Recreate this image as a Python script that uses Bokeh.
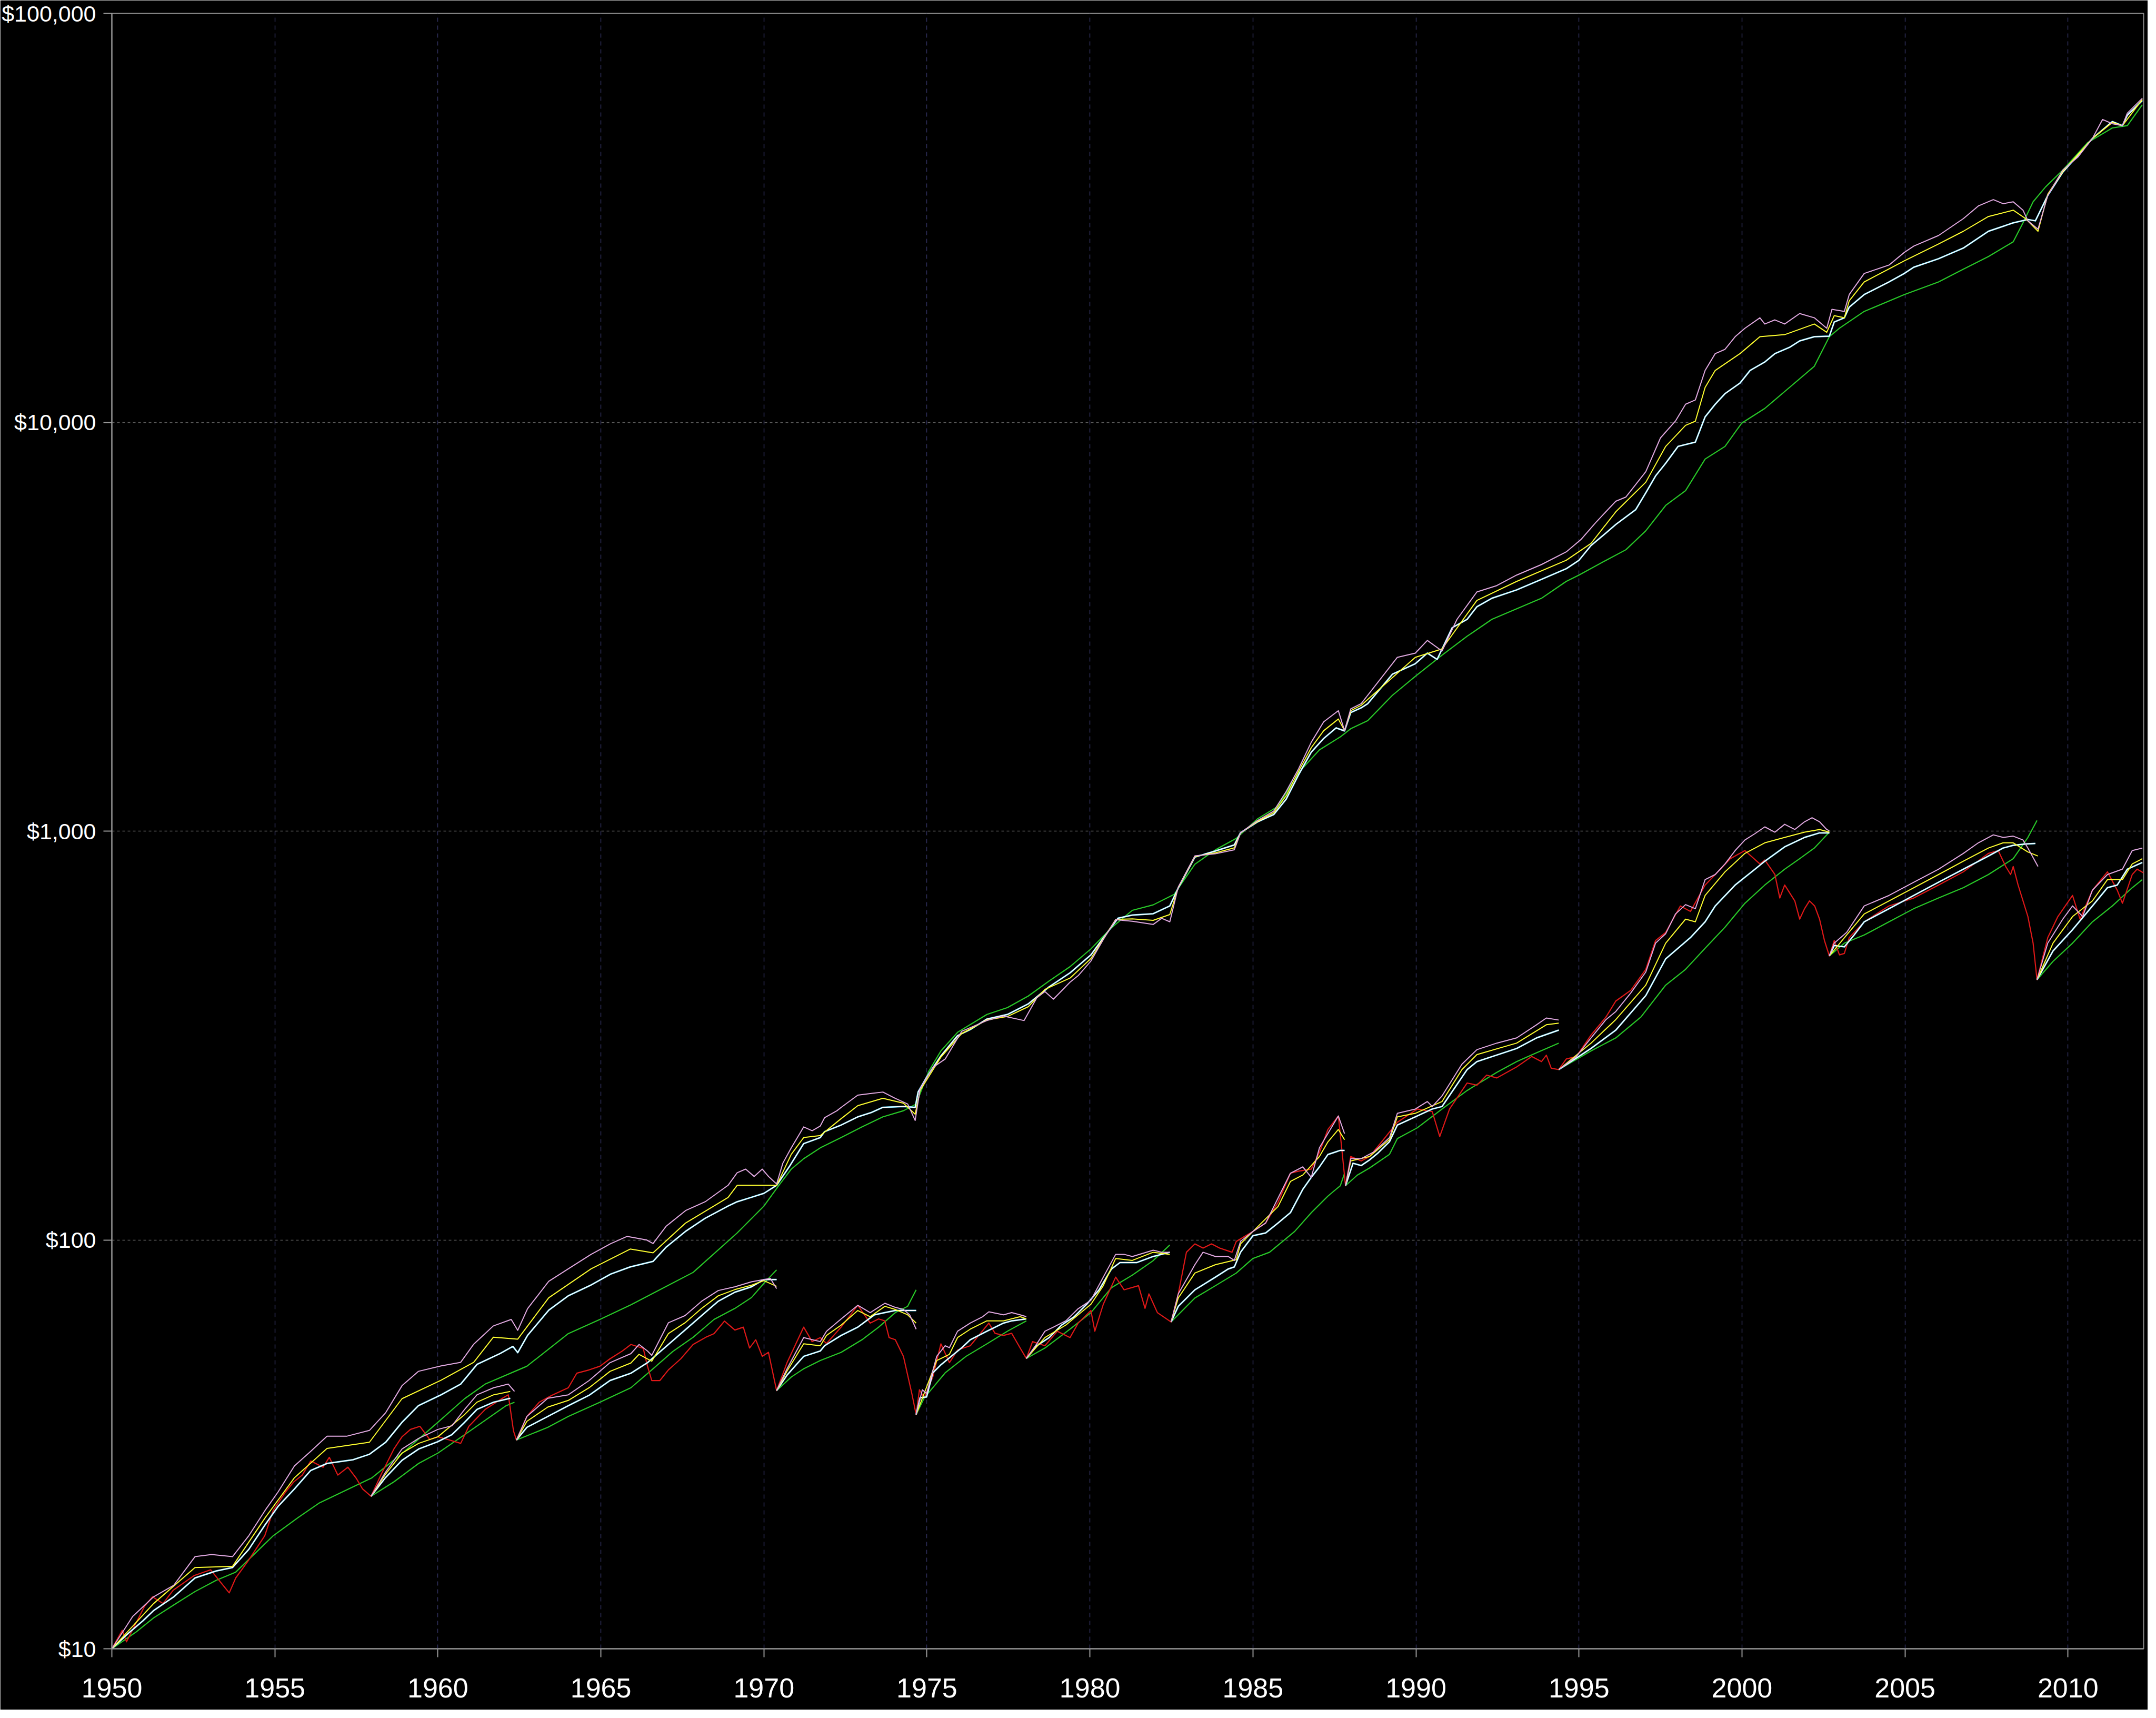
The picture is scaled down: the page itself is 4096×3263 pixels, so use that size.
from bokeh.plotting import figure
from bokeh.models import Range1d, FixedTicker, BasicTickFormatter, NumeralTickFormatter
from bokeh.embed import file_html
from bokeh.resources import INLINE

# ---------------- data (year, value in $) ----------------
RED = [(1950.00,10.0),(1950.32,11.1),(1950.45,10.4),(1951.00,12.7),(1951.25,13.4),(1951.57,12.9),(1951.88,13.9),
(1952.52,15.1),(1953.03,15.6),(1953.35,14.5),(1953.60,13.7),(1953.80,14.9),(1954.18,16.4),(1954.69,18.9),(1954.95,21.8),
(1955.33,24.2),(1955.58,25.6),(1955.84,26.6),(1956.10,28.8),(1956.48,27.8),(1956.67,29.4),(1956.93,26.6),(1957.24,27.8),
(1957.50,26.1),(1957.69,24.6),(1957.95,23.6),(1958.26,26.7),(1958.65,30.8),(1958.90,33.0),(1959.16,34.4),(1959.45,35.0),
(1959.75,32.5),(1960.00,33.0),(1960.30,32.5),(1960.70,31.8),(1960.95,35.0),(1961.45,38.5),(1961.96,40.9),(1962.16,41.8),
(1962.32,34.1),(1962.41,32.4),(1962.73,37.0),(1963.11,40.1),(1963.50,41.7),(1964.00,43.5),(1964.26,47.2),(1964.64,48.1),
(1964.97,49.1),(1965.28,51.2),(1965.66,53.5),(1965.92,55.5),(1966.30,54.3),(1966.43,49.1),(1966.56,45.3),(1966.81,45.3),
(1967.07,48.1),(1967.45,51.2),(1967.83,55.5),(1968.22,57.8),(1968.47,59.0),(1968.79,63.3),(1969.11,60.2),(1969.37,61.2),
(1969.56,54.4),(1969.75,57.0),(1969.95,51.9),(1970.14,53.1),(1970.39,42.8),(1970.71,50.1),(1971.22,61.2),(1971.48,56.4),
(1971.73,57.7),(1971.92,55.8),(1972.37,61.2),(1972.88,69.2),(1973.26,62.6),(1973.52,64.1),(1973.71,63.4),(1973.84,57.7),
(1974.03,57.0),(1974.28,51.9),(1974.54,42.0),(1974.67,37.4),(1974.77,43.0),(1974.92,41.1),(1975.18,46.2),(1975.43,55.7),
(1975.69,50.1),(1975.94,53.8),(1976.33,55.1),(1976.90,62.6),(1977.09,59.1),(1977.35,58.4),(1977.60,59.1),(1977.86,54.4),
(1978.05,51.3),(1978.24,56.4),(1978.62,55.1),(1979.00,59.8),(1979.39,57.7),(1979.64,62.6),(1980.03,67.2),(1980.15,59.8),
(1980.41,69.6),(1980.79,81.1),(1981.05,75.5),(1981.49,77.3),(1981.69,68.0),(1981.81,73.8),(1982.07,66.4),(1982.49,63.0),
(1982.71,73.8),(1982.96,93.3),(1983.22,97.8),(1983.47,95.5),(1983.73,97.8),(1983.98,95.5),(1984.36,93.3),(1984.49,99.2),
(1985.00,104.9),(1985.39,110),(1985.77,123.6),(1986.15,145.6),(1986.40,147.3),(1986.79,149.1),(1987.04,163.8),(1987.30,186.3),
(1987.62,201),(1987.71,171.7),(1987.84,135.7),(1988.00,160),(1988.32,156),(1988.58,160),(1988.98,175),(1989.43,194),
(1990.04,209),(1990.50,206),(1990.73,179),(1991.03,209),(1991.57,242),(1991.87,239),(1992.17,253),(1992.48,249),(1993.09,265),
(1993.55,281),(1993.85,273),(1994.00,283),(1994.15,263),(1994.38,261),(1994.61,277),(1994.92,281),(1995.37,317),(1995.83,351),
(1996.13,384),(1996.59,408),(1997.05,459),(1997.35,540),(1997.66,565),(1998.11,656),(1998.42,636),(1998.87,738),(1999.18,783),
(1999.64,856),(2000.09,896),(2000.55,831),(2000.70,850),(2001.01,783),(2001.16,686),(2001.31,738),(2001.62,675),(2001.77,609),
(2001.92,646),(2002.07,675),(2002.23,656),(2002.38,609),(2002.53,540),(2002.68,495),(2002.83,540),(2002.99,498),(2003.14,502),
(2003.29,549),(2003.75,600),(2004.51,656),(2005.27,686),(2006.03,738),(2006.79,795),(2007.56,882),(2007.86,896),(2008.09,819),
(2008.24,783),(2008.32,819),(2008.47,738),(2008.77,618),(2008.93,532),(2009.05,433),(2009.38,549),(2009.69,618),(2010.14,696),
(2010.37,609),(2010.75,717),(2011.21,795),(2011.51,717),(2011.67,666),(2011.97,783),(2012.12,807),(2012.32,790)]

# upper group (started 1950, never restarted)
UP_WHITE = [(1950.0,10.0),(1950.5,10.9),(1950.95,11.7),(1951.28,12.4),(1951.9,13.4),(1952.55,14.9),(1953.2,15.5),(1953.7,15.8),
(1954.2,17.5),(1954.7,20.1),(1955.1,22.3),(1955.6,24.6),(1956.1,27.3),(1956.6,28.4),(1957.4,29.0),(1957.9,29.9),(1958.4,32.0),
(1958.9,35.8),(1959.4,39.3),(1960.1,41.8),(1960.7,44.4),(1961.2,49.6),(1961.9,52.7),(1962.3,54.9),(1962.45,53.0),(1962.75,58.4),
(1963.4,67.3),(1964.0,73.0),(1964.7,77.6),(1965.3,82.5),(1965.9,85.9),(1966.6,88.6),(1967.0,96),(1967.6,105),(1968.2,113),
(1968.9,121),(1969.18,124),(1969.6,127),(1970.0,130),(1970.39,136),(1970.8,152),(1971.22,172),(1971.73,178),(1971.86,184),
(1972.37,191),(1972.88,200),(1973.3,205),(1973.65,211),(1974.28,212),(1974.64,211),(1974.73,230),(1974.99,250),(1975.43,282),
(1975.94,316),(1976.33,327),(1976.84,347),(1977.47,356),(1978.11,378),(1978.75,416),(1979.39,450),(1980.03,498),(1980.41,548),
(1980.86,612),(1981.3,623),(1981.94,628),(1982.45,656),(1982.71,726),(1983.22,864),(1983.85,894),(1984.43,925),(1984.62,991),
(1985.13,1052),(1985.64,1098),(1986.02,1197),(1986.4,1373),(1986.79,1560),(1987.17,1685),(1987.55,1788),(1987.81,1758),
(1988.0,1950),(1988.32,2002),(1988.52,2049),(1989.28,2420),(1989.98,2567),(1990.35,2725),(1990.65,2630),(1991.11,3143),
(1991.57,3296),(1991.87,3538),(1992.33,3711),(1993.09,3890),(1993.85,4129),(1994.61,4383),(1995.0,4596),(1995.37,4994),
(1995.83,5362),(1996.13,5623),(1996.74,6112),(1997.05,6722),(1997.35,7392),(1997.66,7938),(1998.04,8729),(1998.57,8942),
(1998.87,10310),(1999.18,11070),(1999.48,11750),(1999.94,12470),(2000.25,13390),(2000.7,14040),(2001.01,14720),(2001.46,15250),
(2001.77,15810),(2002.22,16190),(2002.68,16240),(2002.83,17590),(2003.14,18010),(2003.29,19120),(2003.75,20530),(2004.51,22040),
(2004.98,23120),(2005.27,23950),(2006.03,25120),(2006.79,26670),(2007.56,29320),(2008.32,30745),(2008.77,31330),(2009.0,31100),
(2009.38,35870),(2009.84,40900),(2010.3,44970),(2010.75,49450),(2011.36,54380),(2011.67,53150),(2011.82,56350),(2012.28,61240)]

UP_PINK = [(1950.0,10.0),(1950.64,12.0),(1951.28,13.4),(1951.9,14.3),(1952.55,16.8),(1953.06,17.0),(1953.7,16.8),(1954.2,18.9),
(1954.7,21.8),(1955.1,24.2),(1955.6,28.0),(1956.1,30.4),(1956.6,33.1),(1957.2,33.1),(1957.9,34.2),(1958.4,37.8),(1958.9,44.0),
(1959.4,47.7),(1960.1,49.2),(1960.7,50.2),(1961.1,55.6),(1961.7,61.6),(1962.25,63.9),(1962.45,60.1),(1962.75,67.9),(1963.4,79.2),
(1964.0,85.0),(1964.7,92.2),(1965.3,97.9),(1965.8,102),(1966.4,100),(1966.6,98),(1967.0,108),(1967.6,118),(1968.2,124),
(1968.9,136),(1969.18,146),(1969.44,149),(1969.7,143),(1969.95,149),(1970.14,143),(1970.39,137),(1970.58,154),(1970.84,168),
(1971.1,182),(1971.22,189),(1971.48,185),(1971.73,190),(1971.86,199),(1972.24,207),(1972.37,211),(1972.88,226),(1973.26,228),
(1973.65,230),(1974.03,222),(1974.41,215),(1974.64,196),(1974.79,234),(1975.18,264),(1975.56,277),(1976.07,324),(1976.84,344),
(1977.35,353),(1977.98,344),(1978.37,391),(1978.62,405),(1978.88,388),(1979.39,427),(1979.64,443),(1980.03,481),(1980.41,543),
(1980.79,607),(1981.3,602),(1981.94,591),(1982.2,612),(1982.45,600),(1982.71,730),(1983.22,870),(1983.85,880),(1984.43,900),
(1984.62,990),(1985.13,1060),(1985.64,1120),(1986.02,1250),(1986.4,1420),(1986.79,1650),(1987.17,1850),(1987.62,1970),
(1987.81,1760),(1988.0,1990),(1988.32,2050),(1988.52,2149),(1989.43,2661),(1989.98,2725),(1990.35,2927),(1990.8,2757),
(1991.26,3296),(1991.87,3846),(1992.48,3986),(1993.09,4229),(1993.85,4487),(1994.61,4819),(1995.07,5175),(1995.52,5691),
(1996.13,6410),(1996.44,6564),(1997.05,7568),(1997.5,9155),(1997.96,10070),(1998.27,11070),(1998.57,11340),(1998.87,13390),
(1999.18,14720),(1999.48,15080),(1999.79,16190),(2000.09,16980),(2000.55,18010),(2000.7,17390),(2001.01,17800),(2001.31,17390),
(2001.77,18450),(2002.22,18010),(2002.6,16980),(2002.76,18890),(2003.14,18670),(2003.29,20530),(2003.75,23120),(2004.51,24240),
(2004.98,26030),(2005.27,26980),(2006.03,28630),(2006.79,31480),(2007.25,33810),(2007.71,35040),(2008.01,34240),(2008.32,34620),
(2008.62,33020),(2008.77,31100),(2009.08,29670),(2009.38,35870),(2009.84,41380),(2010.3,44500),(2010.75,49450),(2011.06,55030),
(2011.36,53730),(2011.67,53150),(2011.82,57030),(2012.28,62000)]

UP_YELLOW = [(1950.0,10.0),(1951.28,12.9),(1952.55,15.8),(1953.7,15.9),(1954.7,20.9),(1955.6,26.2),(1956.6,30.9),(1957.9,32.0),
(1958.9,40.9),(1960.1,45.4),(1961.1,50.2),(1961.7,57.8),(1962.45,57.2),(1963.4,72.2),(1964.7,85),(1965.9,95),(1966.6,93),
(1967.6,110),(1968.9,127),(1969.18,136),(1970.39,136),(1970.84,162),(1971.22,178),(1971.73,180),(1972.37,198),(1972.88,213),
(1973.65,222),(1974.28,216),(1974.64,203),(1974.79,232),(1975.43,280),(1976.07,320),(1976.84,345),(1977.47,352),(1978.11,372),
(1978.62,410),(1979.39,437),(1980.03,488),(1980.79,608),(1981.3,610),(1981.94,605),(1982.45,625),(1982.71,728),(1983.22,867),
(1983.85,885),(1984.43,910),(1984.62,990),(1985.13,1055),(1985.64,1110),(1986.02,1220),(1986.4,1400),(1986.79,1600),
(1987.17,1760),(1987.62,1880),(1987.81,1760),(1988.0,1970),(1988.32,2030),(1988.52,2098),(1989.98,2661),(1990.8,2790),
(1991.87,3667),(1993.09,4081),(1994.61,4596),(1995.37,5054),(1996.13,6040),(1997.05,7134),(1997.66,8729),(1998.27,9828),
(1998.57,10060),(1998.87,12170),(1999.18,13390),(1999.94,14720),(2000.55,16190),(2001.31,16380),(2002.22,17390),(2002.6,16600),
(2002.83,18230),(2003.14,18010),(2003.29,19820),(2003.75,22040),(2004.98,24820),(2006.03,27300),(2006.79,29320),(2007.56,31860),
(2008.32,33020),(2008.7,31480),(2009.08,29320),(2009.38,36120),(2009.84,41100),(2010.75,49450),(2011.36,54100),(2011.67,53150),
(2012.28,61600)]

UP_GREEN = [(1950.0,10.0),(1950.75,11.0),(1951.28,11.9),(1951.9,12.8),(1952.55,13.8),(1953.2,14.7),(1953.8,15.4),(1954.95,18.9),
(1955.7,20.9),(1956.35,22.7),(1957.98,26.2),(1959.0,30.5),(1960.0,35.8),(1960.82,40.9),(1961.45,44.4),(1962.73,49.1),(1964.0,59.0),
(1964.97,63.9),(1965.92,69.4),(1967.83,83.3),(1969.18,104),(1970.0,121),(1970.46,136),(1970.84,149),(1971.22,158),(1971.73,168),
(1972.37,178),(1973.01,189),(1973.65,200),(1974.28,207),(1974.67,215),(1975.05,258),(1975.43,290),(1975.94,322),(1976.84,356),
(1977.47,370),(1978.11,395),(1978.75,430),(1979.39,466),(1980.03,515),(1980.66,580),(1981.3,640),(1981.94,660),(1982.58,700),
(1983.22,830),(1983.85,900),(1984.49,960),(1985.13,1070),(1985.77,1150),(1986.4,1390),(1987.04,1580),(1987.68,1700),(1988.0,1780),
(1988.52,1863),(1989.28,2149),(1989.98,2391),(1990.8,2693),(1991.57,2996),(1992.33,3296),(1993.09,3497),(1993.85,3711),
(1994.61,4081),(1995.0,4229),(1995.83,4596),(1996.44,4877),(1997.05,5427),(1997.66,6260),(1998.27,6803),(1998.87,8128),
(1999.48,8730),(1999.99,9947),(2000.7,10810),(2001.46,12170),(2002.22,13710),(2002.68,16190),(2002.99,16980),(2003.75,18670),
(2004.98,20530),(2006.03,22040),(2006.79,23680),(2007.56,25430),(2008.32,27630),(2008.62,30745),(2008.93,34620),(2009.31,37630),
(2009.84,41380),(2010.6,48290),(2011.36,52470),(2011.82,53150),(2012.28,59800)]

# restarted groups (each starts at the market value after a decline)
G1_WHITE = [(1957.95,23.6),(1958.39,26.2),(1958.9,28.9),(1959.41,30.8),(1960.0,32.1),(1960.43,33.4),(1960.82,35.8),(1961.2,38.5),(1961.71,40.1),(1962.22,41.0)]
G1_PINK = [(1957.95,23.6),(1958.39,27.0),(1958.9,30.8),(1959.41,32.7),(1960.0,34.4),(1960.43,35.1),(1960.82,38.5),(1961.2,41.8),(1961.71,43.5),(1962.16,44.4),(1962.35,42.6)]
G1_YELLOW = [(1957.95,23.6),(1958.39,26.7),(1958.9,30.1),(1959.41,31.8),(1960.0,33.0),(1960.82,37.4),(1961.2,40.1),(1961.71,41.8),(1962.22,42.6)]
G1_GREEN = [(1957.95,23.6),(1958.65,25.6),(1959.41,28.4),(1960.0,30.1),(1960.82,33.4),(1961.45,36.2),(1962.09,39.3),(1962.35,40.1)]

G2_WHITE = [(1962.41,32.4),(1962.73,34.8),(1963.37,37.0),(1964.0,39.3),(1964.64,41.7),(1965.28,45.3),(1965.92,47.2),(1966.43,50.1),(1967.07,55.5),(1967.58,60.2),(1968.09,65.3),(1968.6,70.8),(1969.11,74.5),(1969.62,76.8),(1970.0,80.0),(1970.39,80.0)]
G2_PINK = [(1962.41,32.4),(1962.73,37.0),(1963.37,41.0),(1964.0,41.8),(1964.64,45.3),(1965.28,50.1),(1965.92,52.7),(1966.17,55.5),(1966.43,53.5),(1966.56,52.2),(1967.07,62.7),(1967.58,65.3),(1968.09,70.8),(1968.6,75.2),(1969.11,76.8),(1969.62,79.0),(1970.0,80.0),(1970.2,80.5),(1970.39,76.0)]
G2_YELLOW = [(1962.41,32.4),(1962.73,36.0),(1963.37,39.0),(1964.0,40.5),(1964.64,43.5),(1965.28,47.7),(1965.92,50.0),(1966.17,52.5),(1966.56,50.5),(1967.07,59.0),(1967.58,62.7),(1968.09,68.0),(1968.6,73.0),(1969.11,75.6),(1969.62,77.5),(1970.0,79.5),(1970.39,77.0)]
G2_GREEN = [(1962.41,32.4),(1963.37,34.8),(1964.0,37.0),(1964.97,40.1),(1965.92,43.5),(1966.56,48.1),(1967.2,53.3),(1967.83,57.8),(1968.47,63.9),(1969.11,68.0),(1969.62,72.3),(1970.0,78.3),(1970.39,84.5)]

G3_WHITE = [(1970.39,42.8),(1970.71,46.7),(1971.22,51.9),(1971.73,53.5),(1971.86,55.1),(1972.37,58.4),(1972.88,61.2),(1973.39,65.6),(1973.71,66.4),(1974.03,67.2),(1974.67,67.2)]
G3_PINK = [(1970.39,42.8),(1970.71,48.4),(1971.22,57.7),(1971.73,56.4),(1971.92,59.8),(1972.37,64.1),(1972.88,69.2),(1973.26,66.4),(1973.71,70.0),(1974.03,68.4),(1974.28,67.6),(1974.47,65.6),(1974.67,60.5)]
G3_YELLOW = [(1970.39,42.8),(1970.71,47.8),(1971.22,55.7),(1971.73,55.1),(1971.92,58.4),(1972.37,61.9),(1972.88,67.2),(1973.26,64.9),(1973.71,68.8),(1974.03,67.6),(1974.41,65.6),(1974.67,62.6)]
G3_GREEN = [(1970.39,42.8),(1970.84,46.2),(1971.22,48.4),(1971.73,50.7),(1972.37,53.1),(1973.01,57.0),(1973.52,61.2),(1974.03,66.4),(1974.41,68.8),(1974.67,75.5)]

G4_WHITE = [(1974.67,37.4),(1974.79,41.1),(1974.99,41.3),(1975.18,47.3),(1975.43,49.5),(1975.82,52.5),(1976.07,54.5),(1976.33,57.0),(1976.84,59.8),(1977.35,62.6),(1977.6,63.4),(1978.05,64.1)]
G4_PINK = [(1974.67,37.4),(1974.86,43.0),(1974.99,42.1),(1975.3,51.9),(1975.56,55.1),(1975.69,54.5),(1975.94,59.8),(1976.33,62.6),(1976.71,64.9),(1976.9,66.7),(1977.35,65.6),(1977.6,66.4),(1977.86,65.6),(1978.05,64.9)]
G4_YELLOW = [(1974.67,37.4),(1975.3,50.7),(1975.69,52.5),(1975.94,57.7),(1976.33,60.5),(1976.84,63.4),(1977.35,63.4),(1977.86,64.9),(1978.05,64.1)]
G4_GREEN = [(1974.67,37.4),(1974.92,41.1),(1975.56,47.3),(1976.2,51.9),(1976.84,55.7),(1977.47,59.8),(1978.05,63.4)]

G5_WHITE = [(1978.05,51.3),(1978.37,55.1),(1978.75,57.7),(1979.13,61.9),(1979.52,64.9),(1979.9,69.6),(1980.28,75.5),(1980.66,84.9),(1980.92,88.0),(1981.43,88.0),(1981.94,91.1),(1982.45,93.3)]
G5_PINK = [(1978.05,51.3),(1978.37,55.7),(1978.62,59.8),(1978.88,61.2),(1979.26,63.4),(1979.64,67.9),(1980.03,71.2),(1980.41,81.1),(1980.79,92.2),(1981.05,92.2),(1981.3,91.1),(1981.94,94.4),(1982.2,93.3),(1982.45,93.3)]
G5_YELLOW = [(1978.05,51.3),(1978.62,57.7),(1979.26,61.9),(1980.03,69.6),(1980.41,77.3),(1980.79,90.1),(1981.3,89.1),(1981.94,93.3),(1982.45,92.2)]
G5_GREEN = [(1978.05,51.3),(1978.62,54.4),(1979.39,60.5),(1980.03,66.4),(1980.66,76.4),(1981.3,82.0),(1981.94,89.0),(1982.45,97.2)]

G6_WHITE = [(1982.49,63.0),(1982.71,68.8),(1983.22,75.5),(1983.85,81.1),(1984.24,84.9),(1984.43,85.9),(1984.62,93.3),(1985.0,102.4),(1985.39,104),(1985.77,110),(1986.15,116.6),(1986.53,133),(1986.79,142.3),(1987.04,150.9),(1987.3,161.8),(1987.68,165.6),(1987.81,165.6)]
G6_PINK = [(1982.49,63.0),(1982.71,73.8),(1983.22,87.0),(1983.47,93.3),(1983.85,91.1),(1984.24,91.1),(1984.43,89.1),(1984.62,99.2),(1985.0,104.9),(1985.39,110),(1985.77,126.6),(1986.15,145.6),(1986.53,150.9),(1986.79,142.3),(1987.04,168),(1987.3,182.2),(1987.62,201),(1987.81,182)]
G6_YELLOW = [(1982.49,63.0),(1982.71,72.1),(1983.22,83.0),(1983.85,87.0),(1984.49,89.5),(1984.62,97.8),(1985.0,104.9),(1985.77,120.7),(1986.15,139),(1986.53,144.2),(1987.04,160),(1987.3,173.7),(1987.62,186.3),(1987.81,175.8)]
G6_GREEN = [(1982.49,63.0),(1983.22,72.1),(1983.85,77.3),(1984.49,83.0),(1985.0,90.1),(1985.51,93.3),(1986.28,104.9),(1986.79,116.6),(1987.3,128),(1987.68,135.7),(1987.81,145.6)]

G7_WHITE = [(1987.84,135.7),(1988.07,154),(1988.32,152),(1988.58,157),(1988.83,163),(1989.19,174),(1989.43,191),(1989.98,200),(1990.5,209),(1990.8,212),(1991.57,261),(1991.87,273),(1993.09,294),(1993.7,312),(1994.38,326)]
G7_PINK = [(1987.84,135.7),(1988.0,158),(1988.32,158),(1988.7,164),(1989.19,178),(1989.43,204),(1989.98,209),(1990.35,218),(1990.5,212),(1990.8,225),(1991.41,269),(1991.87,292),(1992.48,303),(1993.09,312),(1993.7,336),(1994.0,349),(1994.38,345)]
G7_YELLOW = [(1987.84,135.7),(1988.0,156),(1988.58,160),(1989.19,176),(1989.43,200),(1989.98,204),(1990.8,218),(1991.41,261),(1991.87,284),(1993.09,303),(1994.0,336),(1994.38,339)]
G7_GREEN = [(1987.84,135.7),(1988.2,144),(1988.58,150),(1989.19,162),(1989.43,177),(1990.04,188),(1990.8,209),(1991.57,232),(1992.48,257),(1993.09,273),(1993.7,287),(1994.38,303)]

G8_WHITE = [(1994.38,261),(1995.37,294),(1996.13,326),(1997.05,396),(1997.66,487),(1998.42,549),(1998.87,600),(1999.18,656),(1999.79,738),(2000.4,807),(2000.7,844),(2001.31,915),(2001.92,965),(2002.38,990),(2002.68,990)]
G8_PINK = [(1994.38,261),(1994.92,281),(1995.37,312),(1995.83,346),(1996.13,362),(1996.59,402),(1997.05,452),(1997.35,532),(1997.66,561),(1997.96,627),(1998.27,661),(1998.57,646),(1998.87,761),(1999.18,783),(1999.48,831),(1999.79,896),(2000.09,951),(2000.4,986),(2000.7,1024),(2001.01,994),(2001.31,1039),(2001.62,1009),(2001.92,1054),(2002.15,1078),(2002.38,1054),(2002.6,1009),(2002.68,1002)]
G8_YELLOW = [(1994.38,261),(1995.37,303),(1996.13,346),(1997.05,420),(1997.66,532),(1998.27,609),(1998.57,600),(1998.87,696),(1999.48,795),(2000.09,882),(2000.7,936),(2001.31,965),(2001.92,994),(2002.38,1009),(2002.68,994)]
G8_GREEN = [(1994.38,261),(1995.37,290),(1996.13,312),(1996.9,351),(1997.66,420),(1998.27,459),(1998.87,517),(1999.48,582),(2000.09,666),(2000.7,738),(2001.31,807),(2001.77,856),(2002.22,909),(2002.68,994)]

G9_WHITE = [(2002.68,495),(2002.83,525),(2003.14,521),(2003.44,557),(2003.75,600),(2004.51,646),(2005.27,696),(2006.03,750),(2006.79,807),(2007.56,869),(2008.01,909),(2008.32,923),(2008.7,930),(2009.0,933)]
G9_PINK = [(2002.68,495),(2002.83,532),(2003.21,565),(2003.75,656),(2004.51,696),(2005.27,750),(2006.03,807),(2006.79,882),(2007.25,936),(2007.71,979),(2008.01,965),(2008.32,972),(2008.62,951),(2008.77,909),(2009.08,819)]
G9_YELLOW = [(2002.68,495),(2003.21,557),(2003.75,627),(2004.51,675),(2005.27,727),(2006.03,783),(2006.79,844),(2007.56,909),(2008.01,936),(2008.32,936),(2008.77,889),(2009.08,869)]
G9_GREEN = [(2002.68,495),(2003.14,532),(2003.75,557),(2004.51,600),(2005.27,646),(2006.03,686),(2006.79,727),(2007.56,783),(2008.32,856),(2008.77,965),(2009.05,1062)]

G10_WHITE = [(2009.05,433),(2009.54,509),(2010.14,574),(2010.75,656),(2011.21,727),(2011.51,738),(2011.82,807),(2012.28,838)]
G10_PINK = [(2009.05,433),(2009.38,532),(2009.84,609),(2010.14,656),(2010.45,618),(2010.75,717),(2011.21,783),(2011.67,807),(2011.97,896),(2012.28,909)]
G10_YELLOW = [(2009.05,433),(2009.54,532),(2010.14,618),(2010.75,675),(2011.21,761),(2011.67,761),(2011.97,831),(2012.28,856)]
G10_GREEN = [(2009.05,433),(2009.54,480),(2010.14,532),(2010.75,600),(2011.36,656),(2011.97,727),(2012.28,761)]

YEAR_TICKS = [1950, 1955, 1960, 1965, 1970, 1975, 1980, 1985, 1990, 1995, 2000, 2005, 2010]
VALUE_TICKS = [10, 100, 1000, 10000, 100000]

# ---------------- styling ----------------
PINK = "#E2AAE2"
YELLOW = "#FFFF30"
WHITE = "#FFFFFF"
CYAN = "#40CCF4"
GREEN = "#28C828"
REDC = "#E01818"
FONT = "Liberation Sans"

p = figure(width=4080, height=3247, output_backend="svg", toolbar_location=None,
           y_axis_type="log", x_range=Range1d(1950, 2012.32), y_range=Range1d(10, 100000),
           min_border_left=209, min_border_right=8, min_border_top=25, min_border_bottom=116,
           background_fill_color="black", border_fill_color="black")
p.outline_line_color = "#8C8C8C"
p.outline_line_width = 2

for ax in (p.xaxis[0], p.yaxis[0]):
    ax.axis_line_color = "#9A9A9A"
    ax.axis_line_width = 2
    ax.major_tick_line_color = "#9A9A9A"
    ax.major_tick_line_width = 2
    ax.major_tick_in = 0
    ax.major_tick_out = 16
    ax.minor_tick_line_color = None
    ax.major_label_text_color = "white"
    ax.major_label_text_font = FONT

p.xaxis.ticker = FixedTicker(ticks=YEAR_TICKS)
p.xaxis.formatter = BasicTickFormatter(use_scientific=False)
p.xaxis.major_label_text_font_size = "52px"
p.xaxis.major_label_standoff = 40
p.yaxis.ticker = FixedTicker(ticks=VALUE_TICKS)
p.yaxis.formatter = NumeralTickFormatter(format="$0,0")
p.yaxis.major_label_text_font_size = "43px"
p.yaxis.major_label_standoff = 14

p.xgrid.ticker = FixedTicker(ticks=YEAR_TICKS)
p.xgrid.grid_line_color = "#30305E"
p.xgrid.grid_line_dash = "8 7"
p.xgrid.grid_line_width = 1.5
p.ygrid.ticker = FixedTicker(ticks=VALUE_TICKS)
p.ygrid.grid_line_color = "#5C5C5C"
p.ygrid.grid_line_dash = "5 5"
p.ygrid.grid_line_width = 1.5


def draw(series, color, width):
    xs = [t for t, v in series]
    ys = [v for t, v in series]
    p.line(xs, ys, line_color=color, line_width=width, line_join="round")


groups = [
    (UP_WHITE, UP_PINK, UP_YELLOW, UP_GREEN),
    (G1_WHITE, G1_PINK, G1_YELLOW, G1_GREEN),
    (G2_WHITE, G2_PINK, G2_YELLOW, G2_GREEN),
    (G3_WHITE, G3_PINK, G3_YELLOW, G3_GREEN),
    (G4_WHITE, G4_PINK, G4_YELLOW, G4_GREEN),
    (G5_WHITE, G5_PINK, G5_YELLOW, G5_GREEN),
    (G6_WHITE, G6_PINK, G6_YELLOW, G6_GREEN),
    (G7_WHITE, G7_PINK, G7_YELLOW, G7_GREEN),
    (G8_WHITE, G8_PINK, G8_YELLOW, G8_GREEN),
    (G9_WHITE, G9_PINK, G9_YELLOW, G9_GREEN),
    (G10_WHITE, G10_PINK, G10_YELLOW, G10_GREEN),
]

for w, pk, yl, gr in groups:
    draw(gr, GREEN, 2.2)
draw(RED, REDC, 2.2)
for w, pk, yl, gr in groups:
    draw(w, CYAN, 3.0)
    draw(w, WHITE, 2.0)
    draw(yl, YELLOW, 2.0)
    draw(pk, PINK, 2.0)

open("out.html", "w").write(file_html(p, INLINE))
